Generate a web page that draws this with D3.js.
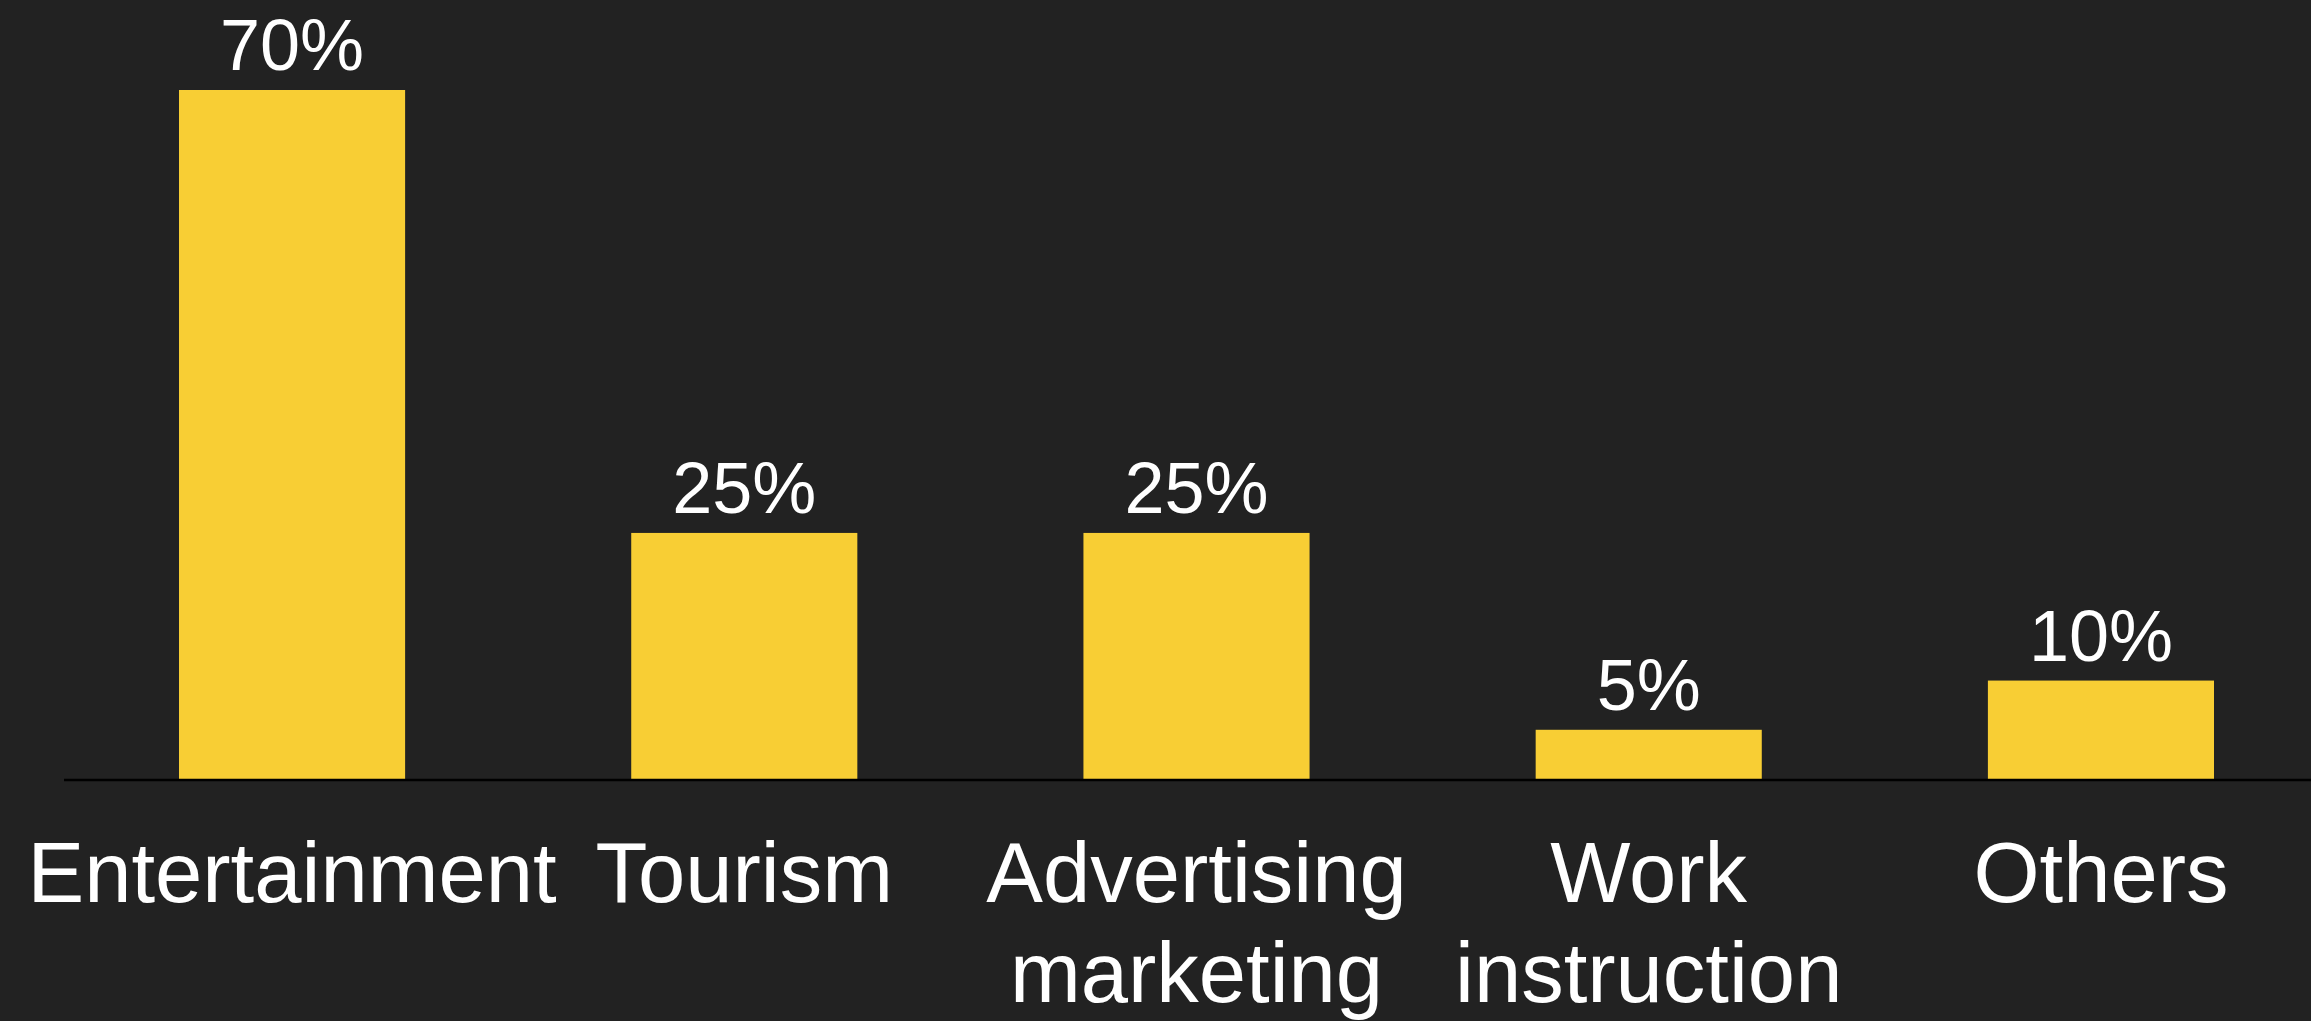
<!DOCTYPE html>
<html>
<head>
<meta charset="utf-8">
<script src="https://cdn.jsdelivr.net/npm/d3@7"></script>
<style>
  html, body { margin: 0; padding: 0; background: #222222; overflow: hidden; }
  svg { display: block; }
  text { font-family: "Liberation Sans", Arial, Helvetica, sans-serif; fill: #ffffff; }
</style>
</head>
<body>
<div id="chart"></div>
<script>
// Usage share by application area
const categories = ["Entertainment", "Tourism", "Advertising marketing", "Work instruction", "Others"];
const categoryLines = [["Entertainment"], ["Tourism"], ["Advertising", "marketing"], ["Work", "instruction"], ["Others"]];
const shares = [70, 25, 25, 5, 10];
const valueLabels = ["70%", "25%", "25%", "5%", "10%"];

const width = 2311, height = 1021;
const baseY = 779;

const svg = d3.select("#chart").append("svg")
  .attr("width", width)
  .attr("height", height);

svg.append("rect").attr("width", width).attr("height", height).attr("fill", "#222222");

const x = d3.scaleBand()
  .domain(categories)
  .range([179, 2214])
  .paddingInner(0.5)
  .paddingOuter(0);

const y = d3.scaleLinear()
  .domain([0, 70])
  .range([baseY, 90]);

const data = categories.map((c, i) => ({ c, v: shares[i], label: valueLabels[i], lines: categoryLines[i] }));

// bars
svg.append("g").selectAll("rect")
  .data(data)
  .join("rect")
  .attr("x", d => x(d.c))
  .attr("y", d => y(d.v))
  .attr("width", x.bandwidth())
  .attr("height", d => y(0) - y(d.v))
  .attr("fill", "#f8ce34");

// value labels above bars
svg.append("g").selectAll("text")
  .data(data)
  .join("text")
  .attr("x", d => x(d.c) + x.bandwidth() / 2)
  .attr("y", d => y(d.v) - 20)
  .attr("text-anchor", "middle")
  .attr("font-size", 72)
  .text(d => d.label);

// baseline
svg.append("line")
  .attr("x1", 64).attr("x2", width)
  .attr("y1", baseY + 1).attr("y2", baseY + 1)
  .attr("stroke", "#000000")
  .attr("stroke-width", 2.5);

// category axis
const axis = svg.append("g")
  .attr("transform", `translate(0,${baseY})`)
  .call(d3.axisBottom(x).tickSize(0).tickPadding(0));
axis.select(".domain").remove();
axis.selectAll(".tick text").each(function(c) {
  const d = data.find(e => e.c === c);
  const t = d3.select(this)
    .attr("font-size", 85)
    .attr("fill", "#ffffff")
    .attr("dy", null)
    .attr("y", 0)
    .attr("font-family", "'Liberation Sans', Arial, Helvetica, sans-serif")
    .text(null);
  d.lines.forEach((ln, i) => {
    t.append("tspan")
      .attr("x", 0)
      .attr("y", 123 + i * 100)
      .text(ln);
  });
});
</script>
</body>
</html>
